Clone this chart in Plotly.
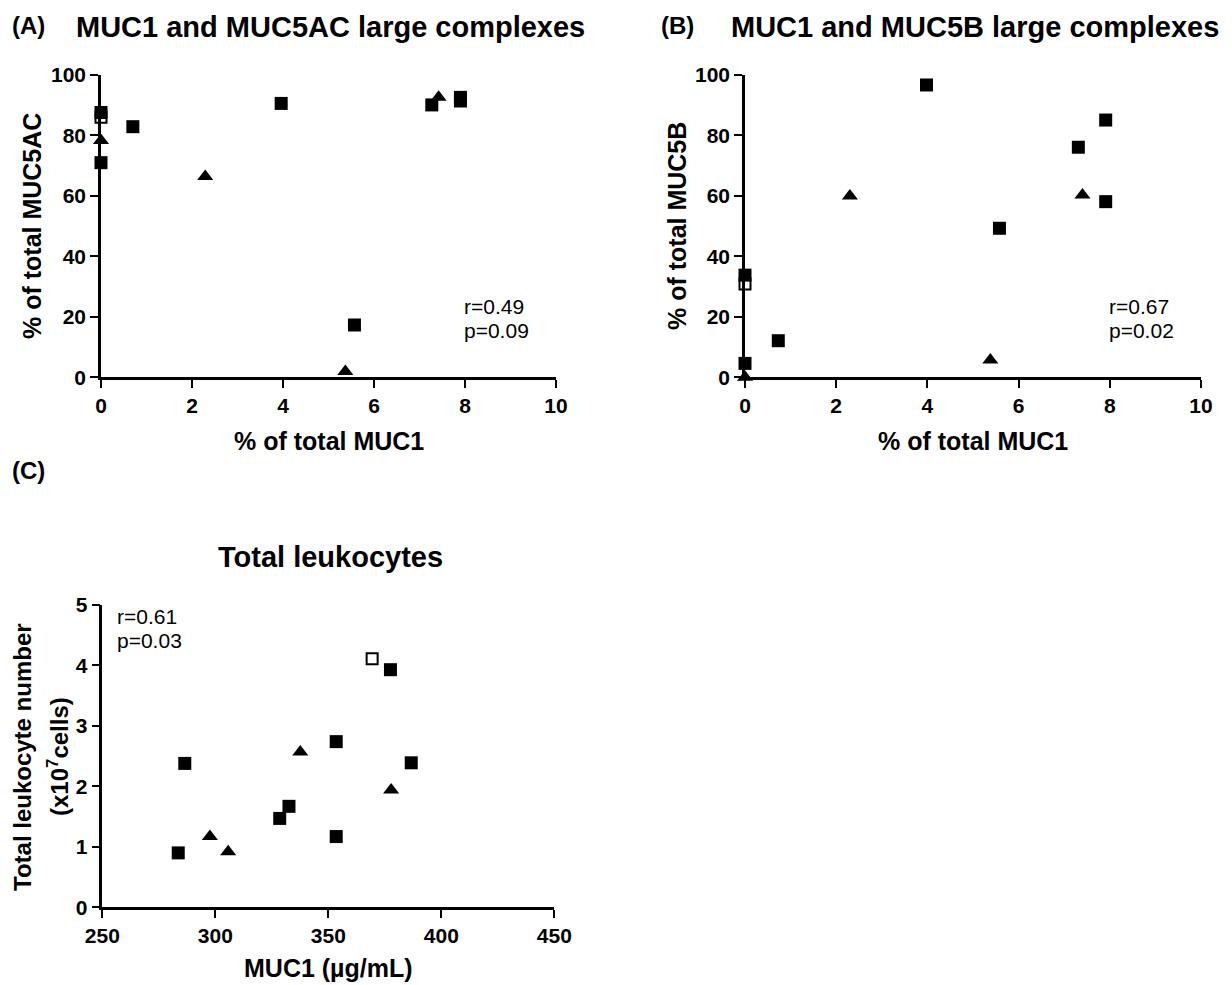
import plotly.graph_objects as go

# the page body adds an 8px margin, so the figure is drawn 8px in from the corner
OFF = 8
W, H = 1232 - OFF, 985 - OFF

# ---------------- data ----------------
# Panel A: MUC1 (% of total) vs MUC5AC (% of total)
a_sq_x = [0, 0, 0.70, 3.96, 7.27, 7.90, 7.90, 5.57]
a_sq_y = [87.6, 71.0, 82.9, 90.6, 90.1, 91.4, 92.6, 17.3]
a_tri_x = [0, 2.29, 7.42, 5.37]
a_tri_y = [78.3, 66.4, 92.6, 1.9]
a_open_x = [0]
a_open_y = [86.0]

# Panel B: MUC1 (% of total) vs MUC5B (% of total)
b_sq_x = [0, 0, 0.73, 3.98, 7.91, 7.31, 7.91, 5.58]
b_sq_y = [33.8, 4.6, 12.1, 96.7, 85.1, 76.1, 58.1, 49.3]
b_tri_x = [0, 2.30, 7.40, 5.38]
b_tri_y = [0.0, 60.0, 60.3, 5.7]
b_open_x = [0]
b_open_y = [30.9]

# Panel C: MUC1 (ug/mL) vs total leukocytes (x10^7 cells)
c_sq_x = [286.5, 283.6, 328.5, 332.6, 377.5, 353.5, 386.7, 353.5]
c_sq_y = [2.38, 0.90, 1.47, 1.67, 3.93, 2.74, 2.39, 1.17]
c_tri_x = [297.6, 305.7, 337.6, 377.8]
c_tri_y = [1.17, 0.92, 2.57, 1.94]
c_open_x = [369.4]
c_open_y = [4.11]

stats_a = ["r=0.49", "p=0.09"]
stats_b = ["r=0.67", "p=0.02"]
stats_c = ["r=0.61", "p=0.03"]

FONT = "Liberation Sans, Arial, sans-serif"


def px(x):
    return (x - OFF) / W


def py(y):
    return 1 - (y - OFF) / H


fig = go.Figure()


def add_points(xs, ys, symbol, size, axis_suffix, fill="black"):
    fig.add_trace(go.Scatter(
        x=xs, y=ys, mode="markers",
        xaxis="x" + axis_suffix, yaxis="y" + axis_suffix,
        marker=dict(symbol=symbol, size=size, color=fill,
                    line=dict(color="black", width=2 if fill == "white" else 0)),
        cliponaxis=False, showlegend=False, hoverinfo="x+y",
    ))


for suf, (ox, oy, sx, sy, tx, ty) in {
    "": (a_open_x, a_open_y, a_sq_x, a_sq_y, a_tri_x, a_tri_y),
    "2": (b_open_x, b_open_y, b_sq_x, b_sq_y, b_tri_x, b_tri_y),
    "3": (c_open_x, c_open_y, c_sq_x, c_sq_y, c_tri_x, c_tri_y),
}.items():
    add_points(ox, oy, "square", 11, suf, fill="white")
    add_points(sx, sy, "square", 13, suf)
    add_points(tx, ty, "triangle-up", 14, suf)

tickfont = dict(family=FONT, size=21, color="black", weight="bold")

common = dict(showline=True, linewidth=2.5, linecolor="black", ticks="outside",
              ticklen=8, tickwidth=2.2, tickcolor="black", showgrid=False,
              zeroline=False, tickfont=tickfont, automargin=False,
              fixedrange=True)

# pixel boxes of the plot areas (page pixels)
A = dict(x0=101, x1=556, y0=75, y1=377.3)
B = dict(x0=745, x1=1201, y0=75, y1=377.3)
C = dict(x0=102.3, x1=554.3, y0=605, y1=907.3)

fig.update_layout(
    width=W, height=H,
    margin=dict(l=0, r=0, t=0, b=0),
    paper_bgcolor="white", plot_bgcolor="white",
    font=dict(family=FONT, color="black"),
    xaxis=dict(domain=[px(A["x0"]), px(A["x1"])], range=[0, 10], dtick=2,
               anchor="y", **common),
    yaxis=dict(domain=[py(A["y1"]), py(A["y0"])], range=[0, 100], dtick=20,
               anchor="x", **common),
    xaxis2=dict(domain=[px(B["x0"]), px(B["x1"])], range=[0, 10], dtick=2,
                anchor="y2", **common),
    yaxis2=dict(domain=[py(B["y1"]), py(B["y0"])], range=[0, 100], dtick=20,
                anchor="x2", **common),
    xaxis3=dict(domain=[px(C["x0"]), px(C["x1"])], range=[250, 450], dtick=50,
                anchor="y3", **common),
    yaxis3=dict(domain=[py(C["y1"]), py(C["y0"])], range=[0, 5], dtick=1,
                anchor="x3", **common),
)

ann = []


def label(text, x, y, size, xanchor="center", bold=True, angle=0):
    ann.append(dict(text=text, x=px(x), y=py(y), xref="paper", yref="paper",
                    xanchor=xanchor, yanchor="middle", showarrow=False,
                    textangle=angle,
                    font=dict(family=FONT, size=size, color="black",
                              weight="bold" if bold else "normal")))


# panel letters and titles
label("(A)", 10, 25, 24, xanchor="left")
label("MUC1 and MUC5AC large complexes", 330, 27, 29)
label("(B)", 659, 25, 24, xanchor="left")
label("MUC1 and MUC5B large complexes", 975, 27, 29)
label("(C)", 10, 470, 24, xanchor="left")
label("Total leukocytes", 330, 557, 29)

# axis titles
label("% of total MUC1", 328.5, 441, 25)
label("% of total MUC5AC", 32, 226, 25, angle=-90)
label("% of total MUC1", 973, 441, 25)
label("% of total MUC5B", 677, 226, 25, angle=-90)
label("MUC1 (µg/mL)", 328, 968, 25)
label("Total leukocyte number", 22, 757, 24, angle=-90)
label("(x10<sup>7</sup>cells)", 58, 757, 24, angle=-90)

# statistics
for (lines, x, y) in [(stats_a, 462, 306.7), (stats_b, 1107, 306.7), (stats_c, 115, 616.7)]:
    for i, t in enumerate(lines):
        label(t, x, y + i * 23.5, 21, xanchor="left", bold=False)

fig.update_layout(annotations=ann)

fig.write_html("out.html")
